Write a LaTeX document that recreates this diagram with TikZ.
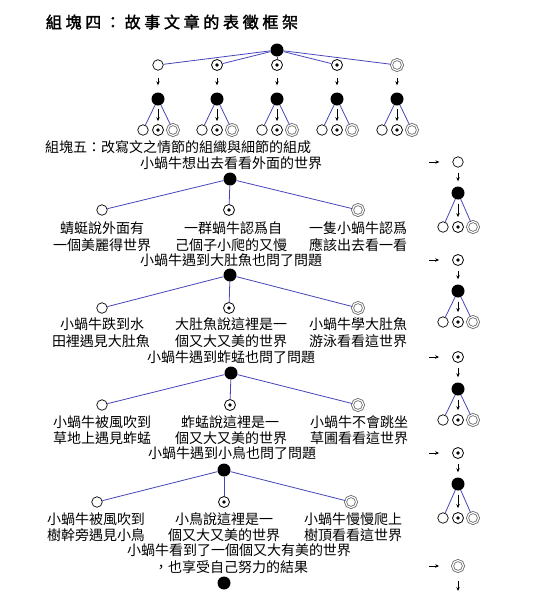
\documentclass[tikz,border=0pt]{standalone}
\usepackage{fontspec}
\setmainfont{Noto Sans CJK TC}
\newfontfamily\titlefont[LetterSpace=23,FakeBold=2]{Noto Sans CJK TC}
\usetikzlibrary{arrows.meta}
\definecolor{lnblue}{RGB}{70,70,185}
\begin{document}
\begin{tikzpicture}[x=1pt,y=-1pt,
  blk/.style={circle,fill=black,minimum size=13pt,inner sep=0},
  opn/.style={circle,draw,line width=0.7pt,minimum size=10.5pt,inner sep=0,fill=white},
  dotc/.style={circle,draw,line width=0.8pt,minimum size=11pt,inner sep=0,fill=white,
    label={[circle,fill=black,inner sep=0,minimum size=3.8pt]center:{}}},
  dbl/.style={circle,draw=black!60,double,double distance=1.2pt,line width=0.8pt,minimum size=11pt,inner sep=0},
  bl/.style={draw=lnblue,line width=0.8pt},
  ar/.style={-{Stealth[length=4pt,width=3.4pt]},line width=0.7pt},
  tx/.style={inner sep=0,font=\fontsize{14}{16}\selectfont},
]
\useasboundingbox[fill=white] (0,0) rectangle (548,595);

% ---------- block four ----------
\node[inner sep=0,font=\titlefont\fontsize{16}{18}\selectfont] (title) at (172,22) {組塊四：故事文章的表徵框架};
\node[blk] (t0) at (277,50) {};
\node[opn]  (t1) at (158,65) {};
\node[dotc] (t2) at (217,65) {};
\node[dotc] (t3) at (277,65) {};
\node[dotc] (t4) at (337,65) {};
\node[dbl]  (t5) at (397,65) {};
\foreach \i/\x in {1/158,2/217,3/277,4/337,5/397} {
  \node[blk]  (u\i) at (\x,99) {};
  \node[opn]  (l\i) at (\x-15,130) {};
  \node[dotc] (m\i) at (\x,130) {};
  \node[dbl]  (r\i) at (\x+15,130) {};
  \draw[bl] (t0) -- (t\i);
  \draw[ar,shorten <=7pt,shorten >=7pt] (t\i) -- (u\i);
  \draw[bl] (u\i) -- (l\i);
  \draw[bl] (u\i) -- (r\i);
  \draw[ar,shorten <=3pt,shorten >=3pt] (u\i) -- (m\i);
}

% ---------- block five ----------
\node[tx,anchor=west] (h5) at (45,147) {組塊五：改寫文之情節的組織與細節的組成};

% right column
\node[opn]  (c1) at (458,162) {};
\node[dotc] (c2) at (458,260) {};
\node[dotc] (c3) at (458,357) {};
\node[dotc] (c4) at (458,453) {};
\node[dbl]  (c5) at (458,566) {};
\foreach \i/\y in {1/162,2/260,3/357,4/453,5/566} {
  \coordinate (ra\i) at (429,\y);
  \draw[ar,shorten >=13pt] (ra\i) -- (c\i);
}
\foreach \i/\yb/\yl in {1/193/227,2/291/322,3/389/420,4/484/518} {
  \node[blk]  (d\i) at (458,\yb) {};
  \node[opn]  (e\i) at (443,\yl) {};
  \node[dotc] (f\i) at (458,\yl) {};
  \node[dbl]  (g\i) at (473,\yl) {};
  \draw[ar,shorten <=5pt,shorten >=5pt] (c\i) -- (d\i);
  \draw[bl] (d\i) -- (e\i);
  \draw[bl] (d\i) -- (g\i);
  \draw[ar,shorten <=4pt,shorten >=4pt] (d\i) -- (f\i);
}
\coordinate (endar) at (458,591);
\draw[ar,shorten <=9pt] (c5) -- (endar);

% section 1
\node[tx] (s1) at (231,163) {小蝸牛想出去看看外面的世界};
\node[blk]  (b1) at (230,179) {};
\node[opn]  (p1) at (102,210) {};
\node[dotc] (q1) at (229,210) {};
\node[dbl]  (w1) at (358,210) {};
\node[tx] (a11) at (102,228) {蜻蜓說外面有};
\node[tx] (a12) at (102,245) {一個美麗得世界};
\node[tx] (a21) at (233,228) {一群蝸牛認爲自};
\node[tx] (a22) at (231,245) {己個子小爬的又慢};
\node[tx] (a31) at (358,228) {一隻小蝸牛認爲};
\node[tx] (a32) at (358,245) {應該出去看一看};

% section 2
\node[tx] (s2) at (231,260) {小蝸牛遇到大肚魚也問了問題};
\node[blk]  (b2) at (230,275) {};
\node[opn]  (p2) at (102,308) {};
\node[dotc] (q2) at (229,308) {};
\node[dbl]  (w2) at (358,308) {};
\node[tx] (b11) at (102,324) {小蝸牛跌到水};
\node[tx] (b12) at (101,341) {田裡遇見大肚魚};
\node[tx] (b21) at (231,324) {大肚魚說這裡是一};
\node[tx] (b22) at (231,341) {個又大又美的世界};
\node[tx] (b31) at (358,324) {小蝸牛學大肚魚};
\node[tx] (b32) at (358,341) {游泳看看這世界};

% section 3
\node[tx] (s3) at (231,357) {小蝸牛遇到蚱蜢也問了問題};
\node[blk]  (b3) at (231,373) {};
\node[opn]  (p3) at (102,405) {};
\node[dotc] (q3) at (230,405) {};
\node[dbl]  (w3) at (358,405) {};
\node[tx] (c11) at (102,422) {小蝸牛被風吹到};
\node[tx] (c12) at (102,438) {草地上遇見蚱蜢};
\node[tx] (c21) at (230,422) {蚱蜢說這裡是一};
\node[tx] (c22) at (231,438) {個又大又美的世界};
\node[tx] (c31) at (359,422) {小蝸牛不會跳坐};
\node[tx] (c32) at (359,438) {草圃看看這世界};

% section 4
\node[tx] (s4) at (232,453) {小蝸牛遇到小鳥也問了問題};
\node[blk]  (b4) at (224,470) {};
\node[opn]  (p4) at (97,502) {};
\node[dotc] (q4) at (224,502) {};
\node[dbl]  (w4) at (351,502) {};
\node[tx] (d11) at (96,519) {小蝸牛被風吹到};
\node[tx] (d12) at (96,535) {樹幹旁遇見小鳥};
\node[tx] (d21) at (224,519) {小鳥說這裡是一};
\node[tx] (d22) at (224,535) {個又大又美的世界};
\node[tx] (d31) at (353,519) {小蝸牛慢慢爬上};
\node[tx] (d32) at (353,535) {樹頂看看這世界};

\foreach \i in {1,2,3,4} {
  \draw[bl] (b\i) -- (p\i);
  \draw[bl] (b\i) -- (q\i);
  \draw[bl] (b\i) -- (w\i);
}

% ending
\node[tx] (s5a) at (239,550) {小蝸牛看到了一個個又大有美的世界};
\node[tx] (s5b) at (231,567) {，也享受自己努力的結果};
\node[blk] (b5) at (224,583) {};
\end{tikzpicture}
\end{document}
